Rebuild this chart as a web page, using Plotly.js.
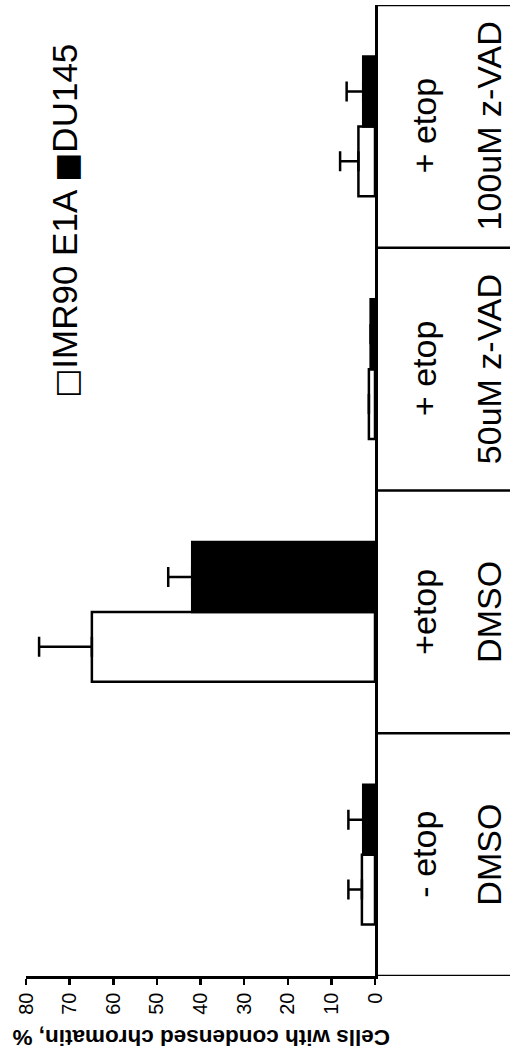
<!DOCTYPE html>
<html>
<head>
<meta charset="utf-8">
<script src="https://cdn.plot.ly/plotly-3.0.1.min.js"></script>
<style>html,body{margin:0;padding:0;background:#fff;}#chart{width:510px;height:1059px;}</style>
</head>
<body>
<div id="chart"></div>
<script>
// Data (categories bottom to top)
const catLine1 = ["- etop", "+etop", "+ etop", "+ etop"];
const catLine2 = ["DMSO", "DMSO", "50uM z-VAD", "100uM z-VAD"];
const seriesNames = ["IMR90 E1A", "DU145"];
const imr90Values = [3.0, 64.9, 1.4, 3.8];
const imr90Errors = [3.1, 12.1, 0, 4.2];
const du145Values = [2.7, 41.9, 1.0, 2.7];
const du145Errors = [3.4, 5.5, 0, 3.8];
const tickValues = [0, 10, 20, 30, 40, 50, 60, 70, 80];
const axisTitle = "Cells with condensed chromatin, %";

const FONT = "Arial, 'Liberation Sans', sans-serif";
const pos = catLine1.map((_, i) => i);
const LW = 2.5;

const traces = [
  {
    type: "bar", orientation: "h", name: seriesNames[0],
    y: pos, x: imr90Values,
    marker: {color: "#ffffff", line: {color: "#000", width: LW}},
    error_x: {type: "data", symmetric: false, array: imr90Errors, arrayminus: imr90Values.map(() => 0),
              color: "#000", thickness: LW, width: 10}
  },
  {
    type: "bar", orientation: "h", name: seriesNames[1],
    y: pos, x: du145Values,
    marker: {color: "#000000", line: {color: "#000", width: LW}},
    error_x: {type: "data", symmetric: false, array: du145Errors, arrayminus: du145Values.map(() => 0),
              color: "#000", thickness: LW, width: 10}
  }
];

const shapes = [];
for (let i = 0; i <= pos.length; i++) {
  shapes.push({type: "line", xref: "paper", yref: "y", x0: 375/510, x1: 1, y0: i - 0.5, y1: i - 0.5,
               line: {color: "#000", width: LW}});
}

const annotations = [];
pos.forEach((p, i) => {
  annotations.push({xref: "paper", yref: "y", x: 424/510, y: p, text: catLine1[i], textangle: -90,
    showarrow: false, xanchor: "center", yanchor: "middle", font: {family: FONT, size: 34, color: "#000"}});
  annotations.push({xref: "paper", yref: "y", x: 489/510, y: p, text: catLine2[i], textangle: -90,
    showarrow: false, xanchor: "center", yanchor: "middle", font: {family: FONT, size: 34, color: "#000"}});
});
// legend as rotated text
const sq = (ch) => "<span style=\"font-family:'DejaVu Sans';font-size:31px\">" + ch + "</span>";
annotations.push({xref: "paper", yref: "paper", x: 65/510, y: 1 - 221/1059,
  text: sq("\u25A1") + seriesNames[0] + " " + sq("\u25A0") + seriesNames[1], textangle: -90, showarrow: false,
  xanchor: "center", yanchor: "middle", font: {family: FONT, size: 35, color: "#000"}});
// axis title (upside down)
annotations.push({xref: "paper", yref: "paper", x: 201/510, y: 1 - 1038/1059,
  text: "<b>" + axisTitle + "</b>", textangle: 180, showarrow: false,
  xanchor: "center", yanchor: "middle", font: {family: FONT, size: 22.5, color: "#000"}});

const layout = {
  width: 510, height: 1059,
  margin: {l: 0, r: 0, t: 0, b: 0},
  paper_bgcolor: "#fff", plot_bgcolor: "rgba(0,0,0,0)",
  showlegend: false,
  barmode: "group", bargap: 0.424, bargroupgap: 0,
  xaxis: {
    domain: [26/510, 375/510], range: [80, 0], autorange: false,
    tickvals: tickValues, ticktext: tickValues.map(String), tickangle: -90,
    ticks: "outside", ticklen: 6, tickwidth: LW, tickcolor: "#000",
    showline: true, linecolor: "#000", linewidth: LW,
    showgrid: false, zeroline: false,
    tickfont: {family: FONT, size: 20, color: "#000"}
  },
  yaxis: {
    domain: [1 - 976/1059, 1 - 5/1059], range: [-0.5, pos.length - 0.5], autorange: false,
    side: "right", showline: true, linecolor: "#000", linewidth: LW,
    showticklabels: false, ticks: "", showgrid: false, zeroline: false
  },
  shapes: shapes,
  annotations: annotations
};

Plotly.newPlot("chart", traces, layout, {displayModeBar: false, staticPlot: true});
</script>
</body>
</html>
